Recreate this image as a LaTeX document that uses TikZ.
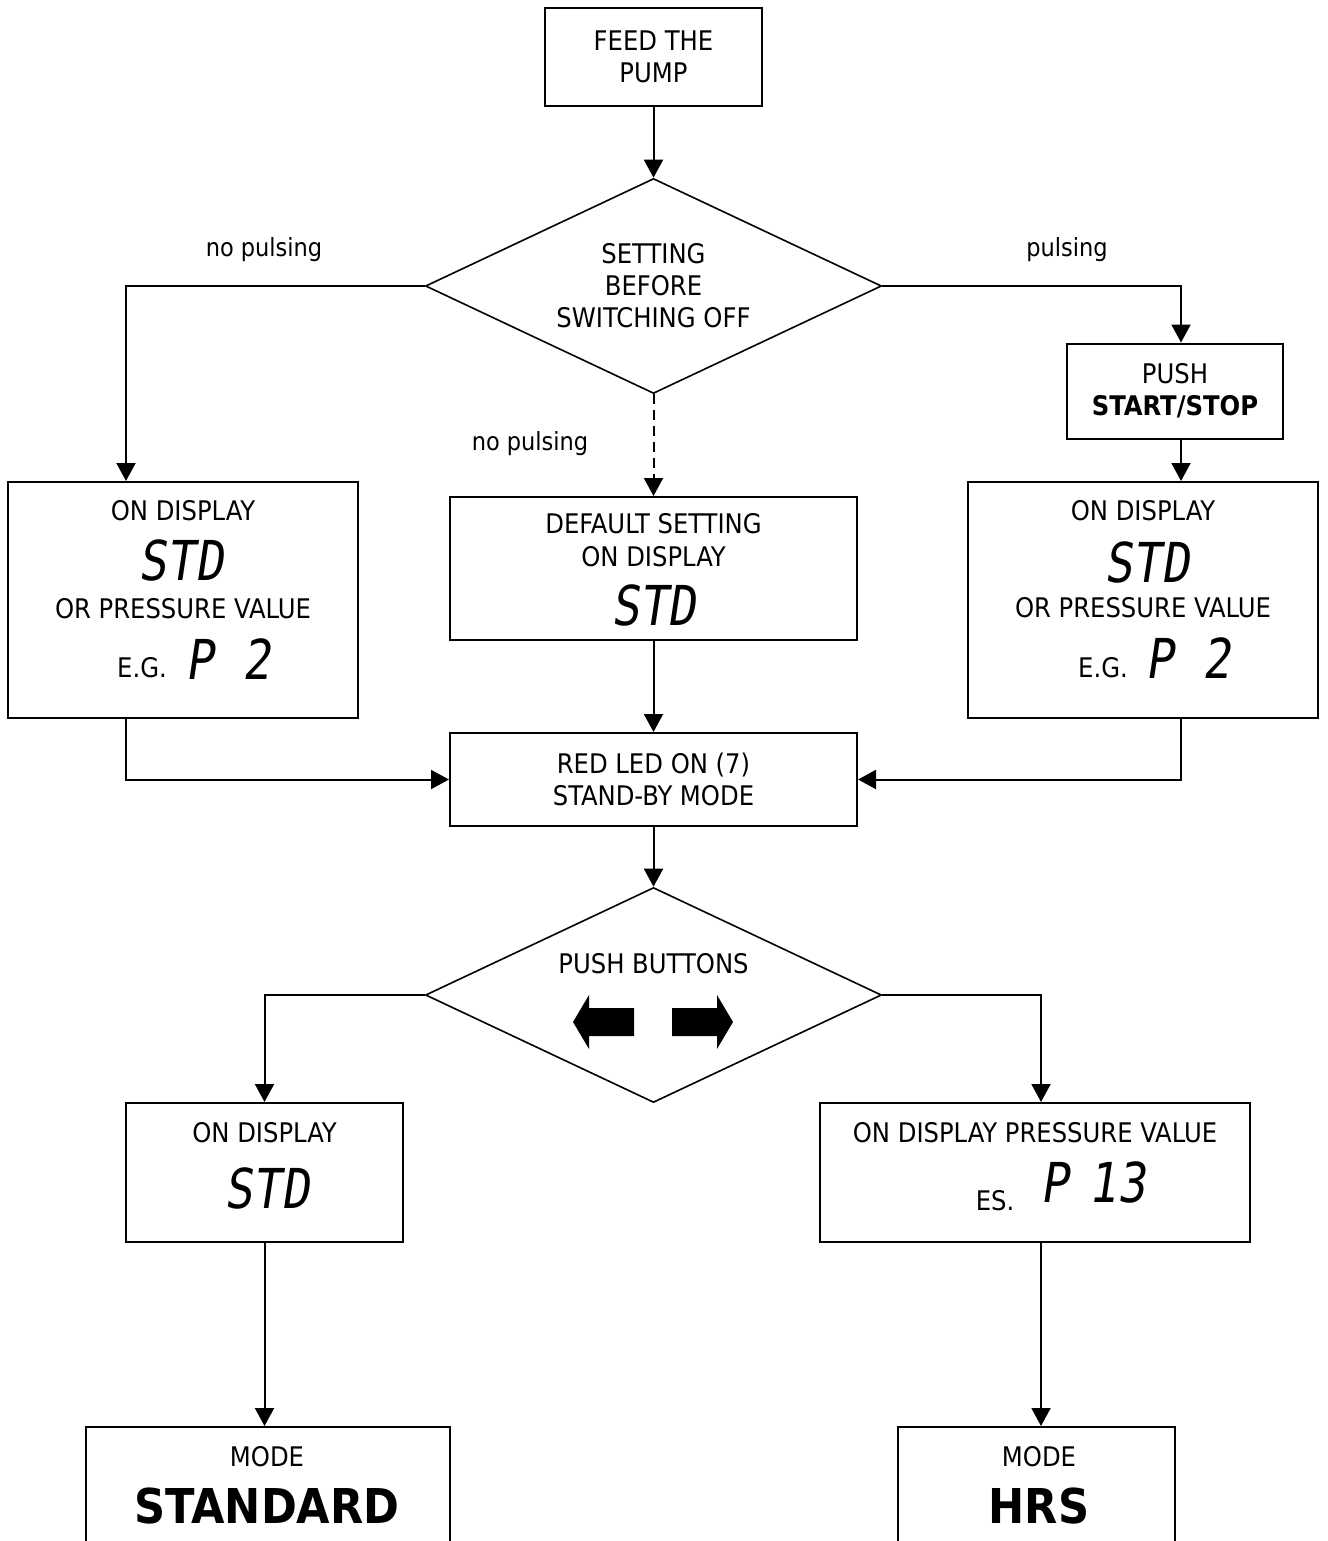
\documentclass[tikz,border=0pt]{standalone}
\usepackage{fontspec}
\setmainfont{DejaVu Sans Condensed}
\newfontfamily\segfont[FakeSlant=0.15,FakeStretch=0.85]{DejaVu Sans Mono}
\usetikzlibrary{shapes.geometric,arrows.meta}

\begin{document}
\begin{tikzpicture}[x=1pt,y=-1pt,line width=2pt,
  box/.style={draw,rectangle,inner sep=0pt,align=center,font=\fontsize{27}{32}\selectfont},
  choice/.style={draw,diamond,inner sep=0pt,aspect=2.1,minimum width=456pt,minimum height=215pt,
    line width=1.6pt,align=center,font=\fontsize{27}{32}\selectfont},
  txt/.style={anchor=base,inner sep=0pt,font=\fontsize{27}{32}\selectfont},
  lbl/.style={anchor=base,inner sep=0pt,font=\fontsize{25}{32}\selectfont},
  seg/.style={anchor=base,inner sep=0pt,font=\segfont\fontsize{55}{55}\selectfont},
  big/.style={anchor=base,inner sep=0pt,font=\bfseries\fontsize{48}{48}\selectfont},
  flow/.style={-{Triangle[length=18pt,width=19pt]}}]
\clip (0,0) rectangle (1327,1541);
\coordinate (lcol) at (126,0);
\coordinate (rcol) at (1181,0);
\coordinate (hcol) at (1041,0);

\node[box,minimum width=217pt,minimum height=98pt] (feed) at (653.5,57) {FEED THE\\PUMP};
\node[choice] (d1) at (653.5,286) {SETTING\\BEFORE\\SWITCHING OFF};
\node[box,minimum width=216pt,minimum height=95pt] (push) at (1175,391) {PUSH\\\textbf{START/STOP}};

\node[box,minimum width=350pt,minimum height=236pt] (lbox) at (183,600) {};
\node[txt] (lt1) at (183,520) {ON DISPLAY};
\node[seg] (lt2) at (181,580) {STD};
\node[txt] (lt3) at (183,618) {OR PRESSURE VALUE};
\node[txt] (lt4) at (142,677) {E.G.};
\node[seg] (lt5) at (228,679) {P 2};

\node[box,minimum width=407pt,minimum height=143pt] (dflt) at (653.5,568.5) {};
\node[txt] (dt1) at (653.5,533) {DEFAULT SETTING};
\node[txt] (dt2) at (653.5,566) {ON DISPLAY};
\node[seg] (dt3) at (653.5,625) {STD};

\node[box,minimum width=350pt,minimum height=236pt] (rbox) at (1143,600) {};
\node[txt] (rt1) at (1143,520) {ON DISPLAY};
\node[seg] (rt2) at (1147,582) {STD};
\node[txt] (rt3) at (1143,617) {OR PRESSURE VALUE};
\node[txt] (rt4) at (1103,677) {E.G.};
\node[seg] (rt5) at (1188,678) {P 2};

\node[box,minimum width=407pt,minimum height=93pt] (red) at (653.5,779.5) {RED LED ON (7)\\STAND-BY MODE};
\node[choice] (d2) at (653.5,995) {};
\node[txt] (bt) at (653.5,973) {PUSH BUTTONS};
\fill (573,1022) -- (589,995) -- (589,1008) -- (634,1008) -- (634,1036) -- (589,1036) -- (589,1049) -- cycle;
\fill (733,1022) -- (717,995) -- (717,1008) -- (672,1008) -- (672,1036) -- (717,1036) -- (717,1049) -- cycle;

\node[box,minimum width=277pt,minimum height=139pt] (sbox) at (264.5,1172.5) {};
\node[txt] (st1) at (264.5,1142) {ON DISPLAY};
\node[seg] (st2) at (267,1208) {STD};
\node[box,minimum width=430pt,minimum height=139pt] (hbox) at (1035,1172.5) {};
\node[txt] (ht1) at (1035,1142) {ON DISPLAY PRESSURE VALUE};
\node[txt] (ht2) at (995,1210) {ES.};
\node[seg] (ht3) at (1093,1202) {P\hspace{-8pt} 13};

\node[box,minimum width=364pt,minimum height=160pt] (std) at (268,1507) {};
\node[txt] (mt1) at (267,1466) {MODE};
\node[big] (mt2) at (267,1523) {STANDARD};
\node[box,minimum width=277pt,minimum height=160pt] (hrs) at (1036.5,1507) {};
\node[txt] (mt3) at (1039,1466) {MODE};
\node[big] (mt4) at (1039,1523) {HRS};

\node[lbl] (lbl1) at (264,256) {no pulsing};
\node[lbl] (lbl2) at (1067,256) {pulsing};
\node[lbl] (lbl3) at (530,450) {no pulsing};

\draw[flow] (feed) -- (d1);
\draw[flow] (d1.west) -| (lbox.north -| lcol);
\draw[flow] (d1.east) -| (push.north -| rcol);
\draw[flow] (push.south -| rcol) -- (rbox.north -| rcol);
\draw[flow,dash pattern=on 10pt off 6pt] (d1.south) -- (dflt.north);
\draw[flow] (dflt) -- (red);
\draw[flow] (lbox.south -| lcol) |- (red.west);
\draw[flow] (rbox.south -| rcol) |- (red.east);
\draw[flow] (red) -- (d2);
\draw[flow] (d2.west) -| (sbox.north);
\draw[flow] (d2.east) -| (hbox.north -| hcol);
\draw[flow] (sbox.south) -- (sbox.south |- std.north);
\draw[flow] (hbox.south -| hcol) -- (hrs.north -| hcol);
\end{tikzpicture}
\end{document}
